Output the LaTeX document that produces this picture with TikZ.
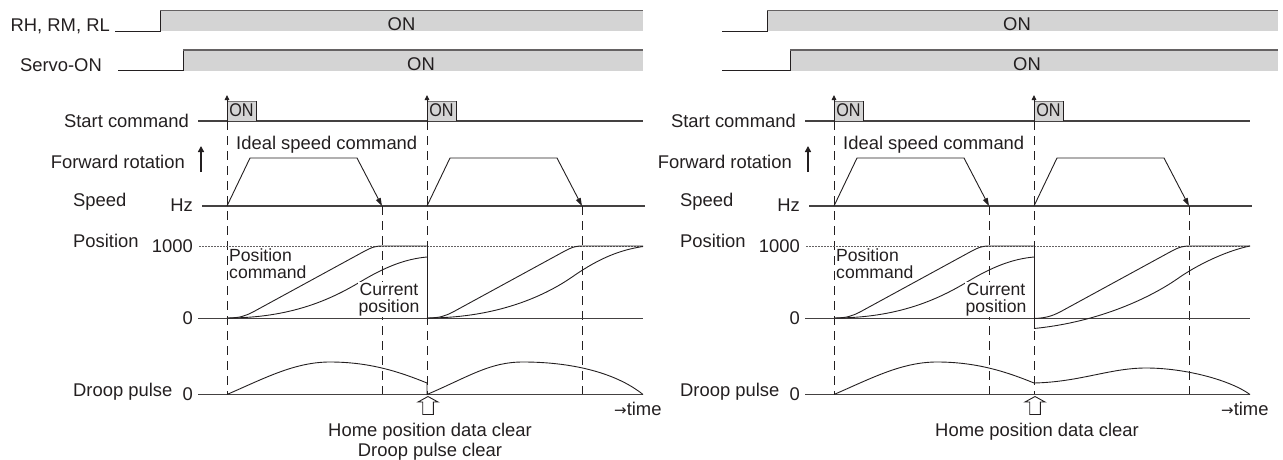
\documentclass[tikz,border=0pt]{standalone}
\usepackage{fontspec}
\setmainfont{Liberation Sans}
\newfontfamily\arrowfont{DejaVu Sans}
\usetikzlibrary{arrows.meta}
\definecolor{ink}{HTML}{231F20}
\definecolor{ongray}{HTML}{D4D4D4}
\tikzset{
  lbl/.style={font=\fontsize{18.4}{15}\selectfont, text=ink, inner sep=0pt},
  twoline/.style={font=\fontsize{17.6}{17}\selectfont, text=ink},
  sigline/.style={draw=ink, line width=1pt},
  topedge/.style={draw=ink!70, line width=1.3pt},
  axisline/.style={draw=ink!85, line width=1.1pt},
  curve/.style={draw=ink, line width=0.9pt},
  guide/.style={draw=ink, line width=0.8pt, dash pattern=on 9pt off 6pt},
  dotline/.style={draw=ink!70, line width=0.6pt, dash pattern=on 1.5pt off 1.5pt},
  hollowarrow/.style={draw=ink, fill=white, line width=0.9pt},
  spdarrow/.style={curve, -{Triangle[length=8pt,width=5pt]}},
  pulseedge/.style={draw=ink, line width=0.9pt, -{Triangle[length=5pt,width=4.5pt]}}
}
\newcommand\panelcommon[1]{%
  % start command
  \node[lbl, anchor=base east] (#1start) at (189,127) {Start command};
  \draw[axisline] (198,121) -- (643,121);
  \fill[ongray] (227,101) rectangle (256,121);
  \draw[draw=ink!60, line width=0.8pt] (227,101) -- (256,101);
  \draw[sigline] (256,101) -- (256,121);
  \draw[pulseedge] (227,121) -- (227,95);
  \node[lbl, anchor=base, xscale=0.88] (#1ona) at (241.5,116) {ON};
  \fill[ongray] (427,101) rectangle (456,121);
  \draw[draw=ink!60, line width=0.8pt] (427,101) -- (456,101);
  \draw[sigline] (456,101) -- (456,121);
  \draw[pulseedge] (427,121) -- (427,95);
  \node[lbl, anchor=base, xscale=0.88] (#1onb) at (441.5,116) {ON};
  % speed
  \node[lbl, anchor=base west] (#1ideal) at (236,149) {Ideal speed command};
  \node[lbl, anchor=base east] (#1fwd) at (185,168) {Forward rotation};
  \draw[ink, line width=1.6pt, -{Triangle[length=6pt,width=6pt]}] (201,172) -- (201,146);
  \node[lbl, anchor=base west] (#1speed) at (73,206.5) {Speed};
  \node[lbl, anchor=base east] (#1hz) at (193,211) {Hz};
  \draw[axisline] (202,206) -- (645,206);
  % guides
  \draw[guide] (227,121) -- (227,394);
  \draw[guide] (382,206) -- (382,394);
  \draw[guide] (427,121) -- (427,394);
  \draw[guide] (582,206) -- (582,394);
  \draw[spdarrow] (227,206) -- (250,158) -- (357,158) -- (382,206);
  \draw[spdarrow] (427,206) -- (450,158) -- (557,158) -- (582,206);
  % position
  \node[lbl, anchor=base west] (#1pos) at (73,247) {Position};
  \node[lbl, anchor=base east] (#1thou) at (193,252.5) {1000};
  \draw[dotline] (199,246) -- (643,246);
  \node[lbl, anchor=base east] (#1pzero) at (193,324) {0};
  \draw[axisline] (198,318.5) -- (643,318.5);
  \draw[curve] (227,318) .. controls (240,318) and (245,316) .. (253,312) -- (363,252)
     .. controls (372,247) and (376,246) .. (382,246) -- (427,246);
  \draw[curve] (227,318) .. controls (290,318) and (330,300) .. (360,282)
     .. controls (385,267) and (405,259) .. (427,257);
  \node[twoline, anchor=west, align=left, inner sep=0pt] (#1pcmd) at (229,264) {Position\\command};
  \node[twoline, anchor=center, align=center, fill=white, inner sep=1pt] (#1cur) at (389,299.5) {Current\\position};
  % droop
  \node[lbl, anchor=base west] (#1droop) at (73,396) {Droop pulse};
  \node[lbl, anchor=base east] (#1dzero) at (193,400) {0};
  \draw[axisline] (198,394.5) -- (643,394.5);
  \draw[curve] (227,394.5) .. controls (265,378) and (295,362) .. (330,362)
     .. controls (370,362) and (400,372) .. (427,383);
  \draw[hollowarrow] (428,396.5) -- (438,402) -- (433.3,402) -- (433.3,414.5)
     -- (422.7,414.5) -- (422.7,402) -- (418,402) -- cycle;
  \node[lbl, anchor=base] (#1home) at (430,436) {Home position data clear};
  \node[lbl, anchor=base west] (#1time) at (614,415) {{\arrowfont\fontsize{15}{15}\selectfont\char"2192}time};
}
\begin{document}
\begin{tikzpicture}[x=1pt,y=-1pt]
\useasboundingbox (0,0) rectangle (1283,460);
% ---------- left panel ----------
\node[lbl, anchor=base east] (rh) at (110,32) {RH, RM, RL};
\fill[ongray] (160,10.5) rectangle (643,31.5);
\draw[sigline] (115,31.5) -- (160,31.5) -- (160,10.5);
\draw[topedge] (160,10.5) -- (643,10.5);
\node[lbl, anchor=base] (rhon) at (401.5,30.5) {ON};
\node[lbl, anchor=base east] (servo) at (102,71) {Servo-ON};
\fill[ongray] (183,50) rectangle (643,71);
\draw[sigline] (118,71) -- (183,71) -- (183,50);
\draw[topedge] (183,50) -- (643,50);
\node[lbl, anchor=base] (servoon) at (421,70.5) {ON};
\panelcommon{L}
\draw[curve] (427,246) -- (427,318.5);
\draw[curve] (427,318) .. controls (440,318) and (445,316) .. (453,312) -- (563,252)
   .. controls (572,247) and (576,246) .. (582,246) -- (643,246);
\draw[curve] (427,318) .. controls (490,318) and (540,300) .. (575,275)
   .. controls (600,258) and (620,250) .. (643,246.5);
\draw[curve] (427,383) -- (427,394.5) .. controls (470,376) and (490,362) .. (523,362)
   .. controls (570,362) and (615,372) .. (643,394.5);
\node[lbl, anchor=base] (Lclear) at (430,456) {Droop pulse clear};
% ---------- right panel ----------
\fill[ongray] (767,10.5) rectangle (1278,31.5);
\draw[sigline] (722,31.5) -- (767,31.5) -- (767,10.5);
\draw[topedge] (767,10.5) -- (1278,10.5);
\node[lbl, anchor=base] (rhon2) at (1017,30.5) {ON};
\fill[ongray] (790,50) rectangle (1278,71);
\draw[sigline] (722,71) -- (790,71) -- (790,50);
\draw[topedge] (790,50) -- (1278,50);
\node[lbl, anchor=base] (servoon2) at (1027,70.5) {ON};
\begin{scope}[xshift=607pt]
\panelcommon{R}
\end{scope}
\draw[curve] (1034,246) -- (1034,328.5);
\draw[curve] (1034,318.5) .. controls (1046,318) and (1052,316) .. (1060,312) -- (1170,252)
   .. controls (1179,247) and (1183,246) .. (1190,246) -- (1250,246);
\draw[curve] (1034,328.5) .. controls (1100,322) and (1152,297) .. (1180,277)
   .. controls (1202,262) and (1230,250) .. (1250,246);
\draw[curve] (1034,383) .. controls (1080,382) and (1110,368) .. (1146,368)
   .. controls (1185,368) and (1230,380) .. (1250,394.5);
\end{tikzpicture}
\end{document}
